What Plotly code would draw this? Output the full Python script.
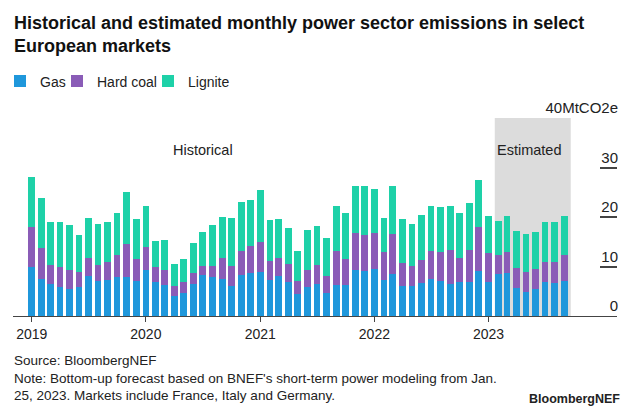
import pandas as pd
import plotly.graph_objects as go

# ---------------- data ----------------
months = pd.date_range("2019-01-01", "2023-09-01", freq="MS")

gas = [
    9.8, 7.4, 6.5, 5.9, 5.4, 5.9, 8.1, 7.1, 7.3, 7.9, 7.8, 7.0,
    9.3, 6.9, 6.3, 4.1, 4.7, 6.5, 8.2, 7.8, 7.5, 6.1, 8.2, 8.6,
    8.9, 7.3, 8.0, 6.9, 4.5, 5.9, 6.5, 4.7, 6.3, 6.2, 9.3, 9.1,
    9.4, 7.3, 8.5, 6.1, 6.1, 6.6, 7.4, 7.0, 6.5, 6.9, 6.9, 9.1,
    6.8, 8.5, 8.6, 5.7, 4.9, 5.4, 6.9, 6.6, 7.1,
]
hard_coal = [
    8.2, 6.4, 3.9, 4.0, 3.9, 3.0, 3.6, 3.2, 3.6, 4.4, 6.8, 4.5,
    4.7, 3.0, 3.0, 2.0, 2.1, 2.1, 2.0, 2.3, 4.3, 4.1, 5.0, 5.6,
    6.1, 3.9, 3.7, 3.7, 2.6, 3.3, 3.9, 3.3, 6.9, 5.4, 7.5, 7.2,
    7.3, 5.7, 8.1, 4.7, 4.0, 4.7, 5.7, 6.0, 6.8, 4.9, 6.4, 8.9,
    6.0, 3.9, 4.4, 4.0, 4.0, 4.0, 4.1, 4.4, 5.3,
]
lignite = [
    10.1, 10.0, 8.6, 9.1, 9.0, 7.4, 8.2, 8.2, 8.0, 8.6, 10.5, 8.0,
    8.3, 5.2, 6.1, 4.4, 4.7, 6.1, 6.7, 8.2, 8.2, 9.6, 9.9, 9.3,
    10.4, 8.2, 7.9, 7.2, 6.0, 8.2, 7.8, 7.7, 9.1, 9.3, 9.5, 10.0,
    8.9, 6.8, 9.7, 8.8, 8.4, 9.2, 9.2, 9.0, 9.0, 9.1, 9.6, 9.5,
    7.4, 6.7, 7.2, 7.4, 7.6, 7.5, 7.9, 7.9, 7.8,
]

series_names = ["Gas", "Hard coal", "Lignite"]
series_colors = ["#1F97DB", "#8A5CB7", "#1ED1A8"]

year_tick_dates = ["2019-01-01", "2020-01-01", "2021-01-01", "2022-01-01", "2023-01-01"]
year_tick_labels = ["2019", "2020", "2021", "2022", "2023"]

y_tick_values = [0, 10, 20, 30, 40]
y_tick_labels = ["0", "10", "20", "30", "40MtCO2e"]

estimated_first = "2023-02-01"
estimated_last = "2023-09-01"

title_text = ("Historical and estimated monthly power sector emissions in select"
              "<br>European markets")
footer_text = ("Source: BloombergNEF<br>"
               "Note: Bottom-up forecast based on BNEF's short-term power modeling from Jan.<br>"
               "25, 2023. Markets include France, Italy and Germany.")

# ---------------- figure ----------------
FONT = "Liberation Sans, Arial, Helvetica, sans-serif"
DAY_MS = 86400000
bar_width = 21.5 * DAY_MS
legend_widths = [12, 46, 50]

fig = go.Figure()
for name, vals, col, lw in zip(series_names, [gas, hard_coal, lignite], series_colors, legend_widths):
    fig.add_trace(go.Bar(
        x=months, y=vals, name=name,
        width=[bar_width] * len(months),
        marker=dict(color=col, line=dict(width=0)),
        legendwidth=lw,
    ))

# estimated period shading
fig.add_shape(
    type="rect", xref="x", yref="y",
    x0=pd.Timestamp(estimated_first) - pd.Timedelta(days=11),
    x1=pd.Timestamp(estimated_last) + pd.Timedelta(days=20),
    y0=0, y1=40,
    fillcolor="#dcdcdc", line=dict(width=0), layer="below",
)

fig.add_annotation(x="2020-07-01", y=33.5, xref="x", yref="y", text="Historical",
                   showarrow=False, font=dict(family=FONT, size=14.5, color="#222"))
fig.add_annotation(x="2023-05-11", y=33.5, xref="x", yref="y", text="Estimated",
                   showarrow=False, font=dict(family=FONT, size=14.5, color="#222"))

# footer
fig.add_annotation(x=(12 - 13) / 604, y=(316 - 351) / 198, xref="paper", yref="paper",
                   xanchor="left", yanchor="top", align="left", showarrow=False,
                   text=footer_text, font=dict(family=FONT, size=13.5, color="#222"))
fig.add_annotation(x=(622 - 13) / 604, y=(316 - 399) / 198, xref="paper", yref="paper",
                   xanchor="right", yanchor="middle", showarrow=False,
                   text="<b>BloombergNEF</b>", font=dict(family=FONT, size=12.5, color="#222"))

fig.update_layout(
    width=640, height=411,
    margin=dict(l=13, r=23, t=118, b=95, autoexpand=False),
    paper_bgcolor="white", plot_bgcolor="white",
    barmode="stack", bargap=0,
    font=dict(family=FONT, size=14, color="#222"),
    title=dict(text="<b>" + title_text + "</b>",
               font=dict(family=FONT, size=18, color="#111"),
               xref="container", x=14 / 640, xanchor="left",
               yref="container", y=1 - 29 / 411, yanchor="top"),
    legend=dict(orientation="h", xref="container", yref="container",
                x=-0.006, xanchor="left", y=1 - 81.5 / 411, yanchor="middle",
                font=dict(family=FONT, size=14, color="#222"),
                itemwidth=30, traceorder="normal", bgcolor="rgba(0,0,0,0)"),
    xaxis=dict(
        type="date",
        range=["2018-11-02", "2024-02-16"],
        tickvals=year_tick_dates, ticktext=year_tick_labels,
        ticks="outside", ticklen=5, tickcolor="#444", tickwidth=1,
        showline=True, linecolor="#444", linewidth=1,
        showgrid=False, zeroline=False, automargin=False,
        tickfont=dict(family=FONT, size=14, color="#222"),
    ),
    yaxis=dict(
        range=[0, 40], side="right",
        tickvals=y_tick_values, ticktext=y_tick_labels,
        ticks="inside", ticklen=17, tickcolor="#444", tickwidth=1.5,
        ticklabelposition="inside top", ticklabeloverflow="allow",
        ticklabelstandoff=-4, ticklabelshift=1,
        showline=False, showgrid=False, zeroline=False, automargin=False,
        tickfont=dict(family=FONT, size=15, color="#222"),
    ),
)

fig.write_html("out.html", config={"displayModeBar": False},
               post_script="document.body.style.margin='0px';")
